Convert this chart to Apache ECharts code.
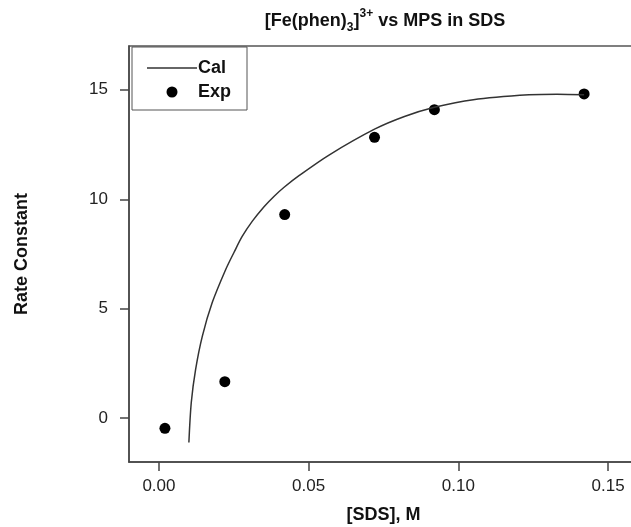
<!DOCTYPE html>
<html>
<head>
<meta charset="utf-8">
<script src="https://cdn.jsdelivr.net/npm/echarts@6/dist/echarts.min.js"></script>
<style>html,body{margin:0;padding:0;background:#fff;}#c{width:631px;height:527px;}</style>
</head>
<body>
<div id="c"></div>
<script>
// Data
var calX = [0.0100, 0.0108, 0.01225, 0.0145, 0.0178, 0.0223, 0.0251, 0.0278, 0.0312, 0.0351, 0.0384, 0.0418, 0.0470, 0.0568, 0.0720, 0.0820, 0.0920, 0.1050, 0.1236, 0.1330, 0.1420];
var calY = [-1.11, 0.72, 2.23, 3.75, 5.28, 6.79, 7.58, 8.30, 9.00, 9.66, 10.13, 10.55, 11.10, 12.02, 13.20, 13.78, 14.20, 14.55, 14.77, 14.80, 14.77];
var expX = [0.002, 0.022, 0.042, 0.072, 0.092, 0.142];
var expY = [-0.46, 1.67, 9.30, 12.83, 14.09, 14.81];
var xTicks = [0, 0.05, 0.10, 0.15];
var yTicks = [0, 5, 10, 15];

var calData = calX.map(function (x, i) { return [x, calY[i]]; });
var expData = expX.map(function (x, i) { return [x, expY[i]]; });

var chart = echarts.init(document.getElementById('c'), null, { renderer: 'canvas' });
var font = 'Liberation Sans, Arial, Helvetica, sans-serif';
var ink = '#111';
chart.setOption({
  animation: false,
  backgroundColor: '#fff',
  textStyle: { fontFamily: font },
  title: {
    text: '{a|[Fe(phen)}{sub|3}{a|]}{sup|3+}{a| vs MPS in SDS}',
    left: 380,
    textAlign: 'center',
    top: 5,
    textStyle: {
      rich: {
        a: { fontFamily: font, fontSize: 18, fontWeight: 'bold', color: ink, lineHeight: 22, verticalAlign: 'middle' },
        sub: { fontFamily: font, fontSize: 12, fontWeight: 'bold', color: ink, lineHeight: 22, verticalAlign: 'middle', padding: [14, 0, 0, 0] },
        sup: { fontFamily: font, fontSize: 12, fontWeight: 'bold', color: ink, lineHeight: 22, verticalAlign: 'middle', padding: [0, 0, 14, 0] }
      }
    }
  },
  legend: {
    orient: 'vertical',
    left: 132,
    top: 47,
    padding: [12, 16, 9, 15],
    itemGap: 6,
    itemWidth: 50,
    itemHeight: 11,
    borderColor: '#555',
    borderWidth: 1,
    backgroundColor: '#fff',
    textStyle: { fontFamily: font, fontSize: 18, fontWeight: 'bold', color: ink, padding: [0, 0, 0, -4] },
    data: [
      { name: 'Cal', icon: 'path://M0,0 L50,0 L50,1.5 L0,1.5 Z', itemStyle: { color: '#333' } },
      { name: 'Exp', itemStyle: { color: '#000', opacity: 1 } }
    ]
  },
  grid: {
    left: 129, top: 46, width: 509, height: 416,
    outerBoundsMode: 'none', containLabel: false,
    show: true, borderColor: '#555', borderWidth: 1.5, backgroundColor: 'transparent'
  },
  xAxis: {
    type: 'value', min: -0.01, max: 0.16,
    name: '[SDS], M', nameLocation: 'middle', nameGap: 44,
    nameTextStyle: { fontFamily: font, fontSize: 18, fontWeight: 'bold', color: ink },
    axisLine: { show: true, onZero: false, lineStyle: { color: '#444', width: 1.5 } },
    axisTick: { show: true, customValues: xTicks, length: 9, lineStyle: { color: '#444', width: 1.5 } },
    axisLabel: { customValues: xTicks, margin: 16, fontFamily: font, fontSize: 17, color: '#222',
      formatter: function (v) { return v.toFixed(2); } },
    splitLine: { show: false }
  },
  yAxis: {
    type: 'value', min: -2, max: 17,
    name: 'Rate Constant', nameLocation: 'middle', nameGap: 98,
    nameTextStyle: { fontFamily: font, fontSize: 18, fontWeight: 'bold', color: ink },
    axisLine: { show: true, onZero: false, lineStyle: { color: '#444', width: 1.5 } },
    axisTick: { show: true, customValues: yTicks, length: 9, lineStyle: { color: '#444', width: 1.5 } },
    axisLabel: { customValues: yTicks, margin: 21, fontFamily: font, fontSize: 17, color: '#222' },
    splitLine: { show: false }
  },
  series: [
    { name: 'Cal', type: 'line', data: calData, smooth: 0.3, symbol: 'none', showSymbol: false,
      lineStyle: { color: '#333', width: 1.5 }, itemStyle: { color: '#333' }, clip: true },
    { name: 'Exp', type: 'scatter', data: expData, symbol: 'circle', symbolSize: 11,
      itemStyle: { color: '#000', opacity: 1 } }
  ]
});
</script>
</body>
</html>
